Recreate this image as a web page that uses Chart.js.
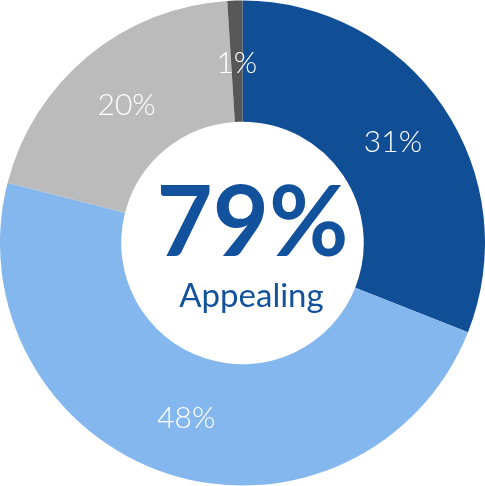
<!DOCTYPE html>
<html>
<head>
<meta charset="utf-8">
<script src="https://cdn.jsdelivr.net/npm/chart.js@4"></script>
<style>
  html, body { margin: 0; padding: 0; background: #fff; }
  #wrap { width: 485px; height: 486px; }
</style>
</head>
<body>
<div id="wrap"><canvas id="appealChart"></canvas></div>
<script>
// segments, clockwise from the top
var segmentLabels = ["Very appealing", "Somewhat appealing", "Not very appealing", "Not at all appealing"];
var segmentValues = [31, 48, 20, 1];
var segmentColors = ["#104e96", "#85b7ef", "#bbbbbb", "#575757"];

var centerValue = "79%";
var centerCaption = "Appealing";

var fontFamily = "'Century Gothic', Lato, 'DejaVu Sans', sans-serif";

// white percentage text on each slice
var sliceLabels = {
  id: "sliceLabels",
  afterDatasetsDraw: function(chart) {
    var ctx = chart.ctx;
    var meta = chart.getDatasetMeta(0);
    ctx.save();
    ctx.fillStyle = "#ffffff";
    ctx.font = "300 30px " + fontFamily;
    ctx.textAlign = "center";
    ctx.textBaseline = "middle";
    meta.data.forEach(function(arc, i) {
      var pos = arc.tooltipPosition();
      ctx.fillText(segmentValues[i] + "%", pos.x, pos.y + 2);
    });
    ctx.restore();
  }
};

// big number + caption in the hole
var centerText = {
  id: "centerText",
  afterDraw: function(chart) {
    var ctx = chart.ctx;
    var arc = chart.getDatasetMeta(0).data[0];
    var cx = arc.x, cy = arc.y;
    ctx.save();
    ctx.fillStyle = "#12519b";
    ctx.textAlign = "center";
    ctx.textBaseline = "alphabetic";
    ctx.font = "bold 97px " + fontFamily;
    ctx.fillText(centerValue, cx + 10, cy + 13);
    ctx.font = "33px " + fontFamily;
    ctx.fillText(centerCaption, cx + 9, cy + 64);
    ctx.restore();
  }
};

var chart = new Chart(document.getElementById("appealChart"), {
  type: "doughnut",
  data: {
    labels: segmentLabels,
    datasets: [{
      data: segmentValues,
      backgroundColor: segmentColors,
      borderWidth: 0
    }]
  },
  options: {
    responsive: true,
    maintainAspectRatio: false,
    animation: false,
    cutout: "50%",
    layout: { padding: 0 },
    plugins: {
      legend: { display: false },
      tooltip: { enabled: false }
    }
  },
  plugins: [sliceLabels, centerText]
});
</script>
</body>
</html>
